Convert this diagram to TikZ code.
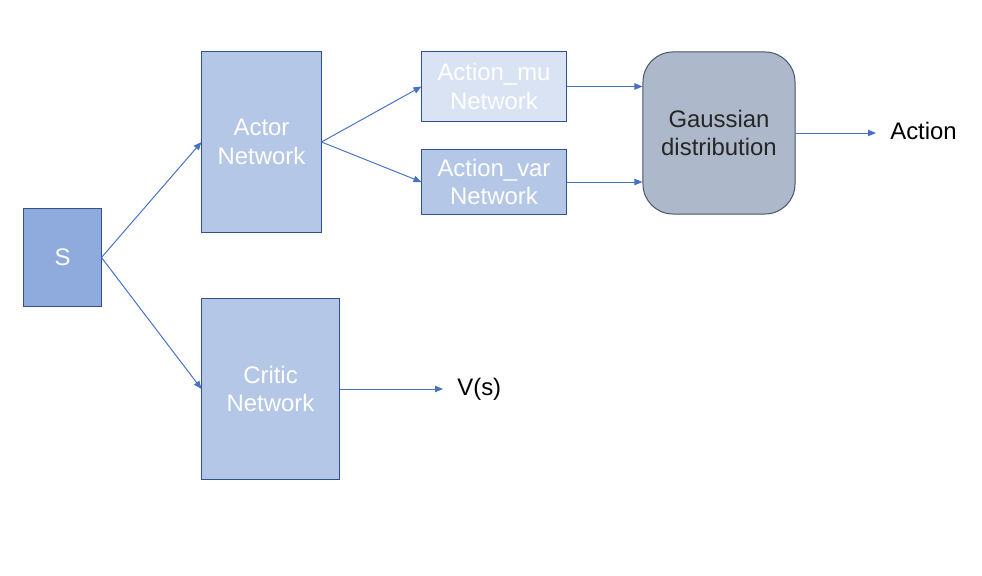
\documentclass[tikz,border=0pt]{standalone}
\usepackage{fontspec}
\setmainfont{Liberation Sans}
\usetikzlibrary{arrows.meta,positioning,calc}
\definecolor{boxedge}{RGB}{47,82,143}
\definecolor{arrblue}{RGB}{68,114,196}
\definecolor{sfill}{RGB}{143,170,220}
\definecolor{netfill}{RGB}{180,199,231}
\definecolor{mufill}{RGB}{218,227,243}
\definecolor{gaussfill}{RGB}{173,185,202}
\definecolor{gaussedge}{RGB}{68,84,106}
\definecolor{txtdark}{RGB}{38,38,38}

\begin{document}
\begin{tikzpicture}[x=0.025cm, y=-0.025cm,
    every node/.style={font=\fontsize{17pt}{20.5pt}\selectfont},
    net/.style={rectangle, draw=boxedge, line width=0.7pt, fill=netfill,
               text=white, align=center, inner sep=0pt},
    gauss/.style={rectangle, draw=gaussedge, line width=0.7pt, fill=gaussfill,
               rounded corners=0.75cm, text=txtdark, align=center,
               minimum width=3.8cm, minimum height=4.05cm},
    lbl/.style={text=black, inner sep=10pt},
    arr/.style={-{Triangle[length=2mm, width=1.6mm]}, arrblue, line width=0.7pt}
]
    \useasboundingbox (0,0) rectangle (982,576);

    \node[net, fill=sfill, minimum width=1.925cm, minimum height=2.425cm] (s) at (62.5,257.5) {S};
    \node[net, minimum width=2.975cm, minimum height=4.5cm] (actor) at (261.5,142) {Actor\\Network};
    \node[net, minimum width=3.425cm, minimum height=4.5cm] (critic) at (270.5,389) {Critic\\Network};
    \node[net, fill=mufill, minimum width=3.6cm, minimum height=1.725cm] (mu) at (494,86.5) {Action\_mu\\Network};
    \node[net, minimum width=3.6cm, minimum height=1.6cm] (var) at (494,182) {Action\_var\\Network};
    \node[gauss] (gd) at (719,133) {Gaussian\\distribution};

    \node[lbl, anchor=west] (action) at (876,131) {Action};
    \node[lbl, anchor=west] (value) at (443,389) {V(s)};

    \draw[arr] (s.east) -- (actor.west);
    \draw[arr] (s.east) -- (critic.west);
    \draw[arr] (actor.east) -- (mu.west);
    \draw[arr] (actor.east) -- (var.west);
    \draw[arr] (mu.east) -- (mu.east -| gd.west);
    \draw[arr] (var.east) -- (var.east -| gd.west);
    \draw[arr] (gd.east) -- (gd.east -| action.west);
    \draw[arr] (critic.east) -- (value.west);
\end{tikzpicture}
\end{document}
